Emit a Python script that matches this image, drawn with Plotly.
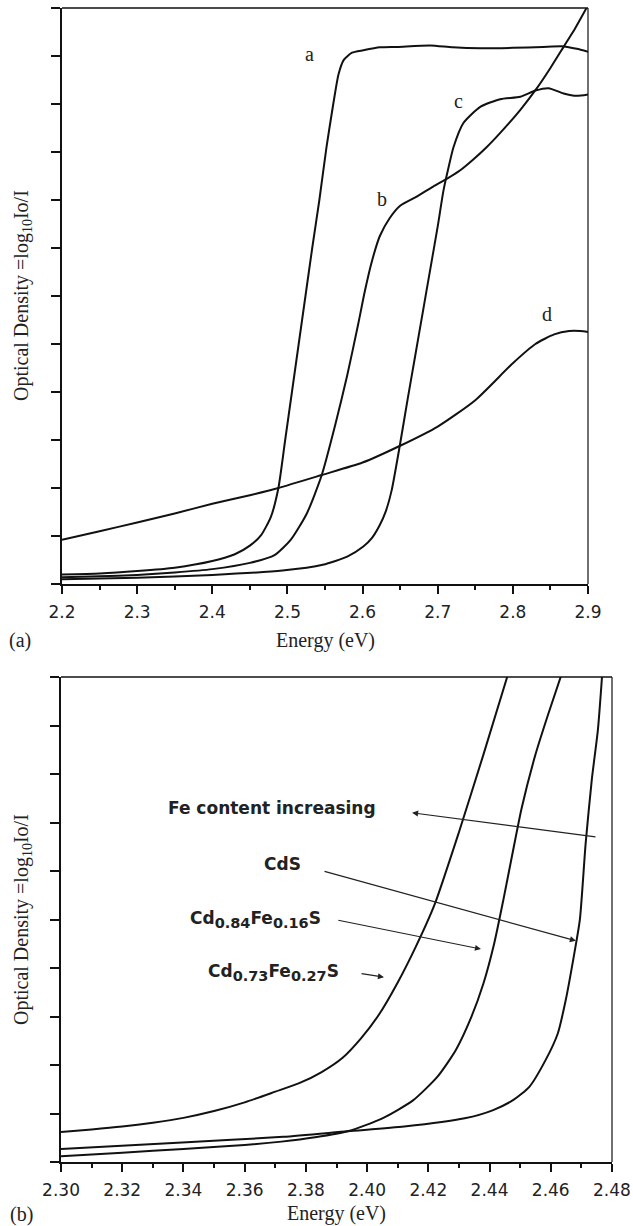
import plotly.graph_objects as go

# ---------------- Panel (a) data ----------------
a_x = [2.200, 2.250, 2.300, 2.350, 2.400, 2.430, 2.450, 2.465, 2.478, 2.488, 2.497, 2.506, 2.515,
       2.524, 2.533, 2.5425, 2.552, 2.561, 2.568, 2.575, 2.586, 2.601, 2.623, 2.646, 2.690, 2.720,
       2.757, 2.800, 2.840, 2.868, 2.885, 2.900]
a_y = [0.20, 0.22, 0.27, 0.34, 0.48, 0.62, 0.80, 1.02, 1.40, 2.00, 3.00, 4.00, 5.00,
       6.00, 7.00, 8.00, 9.10, 10.00, 10.62, 10.92, 11.07, 11.12, 11.18, 11.19, 11.22, 11.18,
       11.16, 11.17, 11.19, 11.20, 11.15, 11.09]

b_x = [2.200, 2.250, 2.300, 2.350, 2.400, 2.450, 2.4828, 2.5043, 2.5258, 2.5457, 2.5634, 2.5796,
       2.594, 2.603, 2.612, 2.623, 2.636, 2.650, 2.672, 2.694, 2.712, 2.730, 2.7477, 2.765, 2.7832,
       2.810, 2.832, 2.850, 2.8675, 2.883, 2.898]
b_y = [0.14, 0.16, 0.19, 0.24, 0.31, 0.44, 0.60, 0.92, 1.47, 2.27, 3.30, 4.35,
       5.40, 6.10, 6.70, 7.25, 7.62, 7.88, 8.07, 8.28, 8.44, 8.62, 8.85, 9.10, 9.40,
       9.88, 10.33, 10.75, 11.19, 11.58, 12.00]

c_x = [2.200, 2.300, 2.400, 2.4935, 2.547, 2.5796, 2.601, 2.612, 2.6226, 2.631, 2.6387, 2.6495,
       2.660, 2.670, 2.680, 2.690, 2.700, 2.7077, 2.714, 2.721, 2.734, 2.7566, 2.7832, 2.810,
       2.8299, 2.8475, 2.8675, 2.885, 2.900]
c_y = [0.10, 0.13, 0.19, 0.28, 0.40, 0.57, 0.78, 0.95, 1.22, 1.52, 1.95, 2.88,
       3.85, 4.75, 5.65, 6.55, 7.45, 8.20, 8.65, 9.10, 9.60, 9.94, 10.10, 10.15,
       10.28, 10.33, 10.22, 10.17, 10.20]

d_x = [2.200, 2.250, 2.300, 2.350, 2.400, 2.450, 2.488, 2.5457, 2.600, 2.650, 2.700, 2.750,
       2.800, 2.830, 2.855, 2.875, 2.890, 2.900]
d_y = [0.92, 1.10, 1.28, 1.47, 1.67, 1.85, 2.00, 2.27, 2.53, 2.88, 3.28, 3.83,
       4.60, 5.00, 5.20, 5.27, 5.27, 5.25]

a_ticks = [2.2, 2.3, 2.4, 2.5, 2.6, 2.7, 2.8, 2.9]
a_tick_text = ["2.2", "2.3", "2.4", "2.5", "2.6", "2.7", "2.8", "2.9"]
a_minor = [2.25, 2.35, 2.45, 2.55, 2.65, 2.75, 2.85]
a_yticks = list(range(0, 13))
a_labels = ["a", "b", "c", "d"]
a_label_x = [2.529, 2.6255, 2.7274, 2.8455]
a_label_y = [11.05, 8.03, 10.06, 5.63]

# ---------------- Panel (b) data ----------------
l_x = [2.300, 2.310, 2.320, 2.330, 2.340, 2.350, 2.360, 2.370, 2.378, 2.385, 2.392, 2.398,
       2.404, 2.410, 2.416, 2.422, 2.430, 2.438, 2.446]
l_y = [0.62, 0.67, 0.73, 0.81, 0.91, 1.05, 1.23, 1.45, 1.63, 1.85, 2.15, 2.55,
       3.05, 3.70, 4.45, 5.30, 6.80, 8.40, 10.05]

m_x = [2.300, 2.320, 2.340, 2.360, 2.372, 2.383, 2.394, 2.405, 2.415, 2.423, 2.429, 2.434,
       2.438, 2.4415, 2.4445, 2.447, 2.4505, 2.455, 2.459, 2.4635]
m_y = [0.12, 0.19, 0.27, 0.35, 0.42, 0.51, 0.64, 0.90, 1.27, 1.76, 2.31, 2.98,
       3.68, 4.50, 5.40, 6.20, 7.30, 8.40, 9.20, 10.05]

r_x = [2.300, 2.3396, 2.3726, 2.3937, 2.4121, 2.4319, 2.4412, 2.4478, 2.453, 2.4583, 2.4623,
       2.4649, 2.4675, 2.4695, 2.4714, 2.4734, 2.4754, 2.4768]
r_y = [0.27, 0.40, 0.52, 0.635, 0.73, 0.90, 1.07, 1.28, 1.55, 2.10, 2.65,
       3.34, 4.23, 4.99, 6.57, 7.88, 8.91, 10.05]

b_ticks = [2.30, 2.32, 2.34, 2.36, 2.38, 2.40, 2.42, 2.44, 2.46, 2.48]
b_tick_text = ["2.30", "2.32", "2.34", "2.36", "2.38", "2.40", "2.42", "2.44", "2.46", "2.48"]
b_minor = [2.31, 2.33, 2.35, 2.37, 2.39, 2.41, 2.43, 2.45, 2.47]
b_yticks = list(range(0, 11))

def sub(s):
    return "<sub><span style='font-size:14.5px'>" + s + "</span></sub>"

b_texts = ["<b>Fe content increasing</b>", "<b>CdS</b>",
           "<b>Cd" + sub("0.84") + "Fe" + sub("0.16") + "S</b>",
           "<b>Cd" + sub("0.73") + "Fe" + sub("0.27") + "S</b>"]
b_text_x = [2.3689, 2.3725, 2.3635, 2.3695]
b_text_y = [7.30, 6.14, 5.00, 3.90]
arrow_tail_x = [2.4751, 2.3856, 2.3901, 2.3977]
arrow_tail_y = [6.70, 6.00, 4.99, 3.89]
arrow_head_x = [2.4147, 2.4682, 2.4372, 2.4055]
arrow_head_y = [7.20, 4.56, 4.39, 3.81]

SERIF = "Liberation Serif, Times New Roman, serif"
SANS = "DejaVu Sans, Arial, sans-serif"

fig = go.Figure()
line_style = dict(color="#111111", width=2, shape="spline", smoothing=0.6)
for xs, ys in [(a_x, a_y), (b_x, b_y), (c_x, c_y), (d_x, d_y)]:
    fig.add_trace(go.Scatter(x=xs, y=ys, mode="lines", line=line_style,
                             xaxis="x", yaxis="y", hoverinfo="skip"))
for xs, ys in [(l_x, l_y), (m_x, m_y), (r_x, r_y)]:
    fig.add_trace(go.Scatter(x=xs, y=ys, mode="lines", line=line_style,
                             xaxis="x2", yaxis="y2", hoverinfo="skip"))

def xaxis_cfg(domain, rng, tv, tt, minor, anchor):
    return dict(domain=domain, range=rng, tickmode="array", tickvals=tv, ticktext=tt,
                ticks="outside", ticklen=8, tickwidth=1.5, tickcolor="#111",
                showline=True, linewidth=2, linecolor="#111", showgrid=False, zeroline=False,
                tickfont=dict(family=SANS, size=17, color="#222"), ticklabelstandoff=4,
                minor=dict(tickmode="array", tickvals=minor, ticks="outside", ticklen=4,
                           tickwidth=1.5, tickcolor="#111", showgrid=False),
                anchor=anchor, fixedrange=True, automargin=False)

def yaxis_cfg(domain, rng, tv, anchor):
    return dict(domain=domain, range=rng, tickmode="array", tickvals=tv,
                ticks="outside", ticklen=9, tickwidth=1.5, tickcolor="#111",
                showticklabels=False, showline=True, linewidth=2, linecolor="#111",
                showgrid=False, zeroline=False, anchor=anchor, fixedrange=True,
                automargin=False)

W, H = 633, 1226
layout = dict(
    width=W, height=H, margin=dict(l=0, r=0, t=0, b=0, autoexpand=False),
    paper_bgcolor="white", plot_bgcolor="white", showlegend=False,
    xaxis=xaxis_cfg([62 / W, 588 / W], [2.19999, 2.90001], a_ticks, a_tick_text, a_minor, "y"),
    yaxis=yaxis_cfg([1 - 584 / H, 1 - 8 / H], [-0.0001, 12.0001], a_yticks, "x"),
    xaxis2=xaxis_cfg([61 / W, 612 / W], [2.29999, 2.48001], b_ticks, b_tick_text, b_minor, "y2"),
    yaxis2=yaxis_cfg([1 - 1162 / H, 1 - 677 / H], [-0.0001, 10.0001], b_yticks, "x2"),
)
fig.update_layout(**layout)

# thin top/right frame lines
for xr, yr in [("x domain", "y domain"), ("x2 domain", "y2 domain")]:
    fig.add_shape(type="line", xref=xr, yref=yr, x0=0, x1=1, y0=1, y1=1,
                  line=dict(color="#111", width=1.5))
    fig.add_shape(type="line", xref=xr, yref=yr, x0=1, x1=1, y0=0, y1=1,
                  line=dict(color="#111", width=1.2))

CENTER = dict(xanchor="center", yanchor="middle")
annotations = []
for t, x, y in zip(a_labels, a_label_x, a_label_y):
    annotations.append(dict(text=t, x=x, y=y, xref="x", yref="y", showarrow=False, **CENTER,
                            font=dict(family=SERIF, size=20, color="#222")))
for t, x, y in zip(b_texts, b_text_x, b_text_y):
    annotations.append(dict(text=t, x=x, y=y, xref="x2", yref="y2", showarrow=False, **CENTER,
                            font=dict(family=SANS, size=17, color="#222")))
for hx, hy, tx, ty in zip(arrow_head_x, arrow_head_y, arrow_tail_x, arrow_tail_y):
    annotations.append(dict(text="", x=hx, y=hy, xref="x2", yref="y2",
                            ax=tx, ay=ty, axref="x2", ayref="y2", showarrow=True,
                            arrowhead=2, arrowsize=1.0, arrowwidth=1.2, arrowcolor="#222",
                            standoff=0, startstandoff=0))

ytitle = "Optical Density =log<sub>10</sub>Io/I"
serif_font = dict(family=SERIF, size=20, color="#222")
annotations += [
    dict(text="Energy (eV)", x=325 / W, y=1 - 640 / H, xref="paper", yref="paper",
         showarrow=False, font=serif_font, **CENTER),
    dict(text="(a)", x=20 / W, y=1 - 640 / H, xref="paper", yref="paper",
         showarrow=False, font=serif_font, **CENTER),
    dict(text=ytitle, x=22 / W, y=1 - 296 / H, xref="paper", yref="paper", textangle=-90,
         showarrow=False, font=serif_font, **CENTER),
    dict(text="Energy (eV)", x=336.5 / W, y=1 - 1213 / H, xref="paper", yref="paper",
         showarrow=False, font=serif_font, **CENTER),
    dict(text="(b)", x=21 / W, y=1 - 1214 / H, xref="paper", yref="paper",
         showarrow=False, font=serif_font, **CENTER),
    dict(text=ytitle, x=22 / W, y=1 - 920 / H, xref="paper", yref="paper", textangle=-90,
         showarrow=False, font=serif_font, **CENTER),
]
fig.update_layout(annotations=annotations)

fig.write_html("out.html", config=dict(displayModeBar=False),
               post_script="document.body.style.margin='0px';document.body.style.padding='0px';")
